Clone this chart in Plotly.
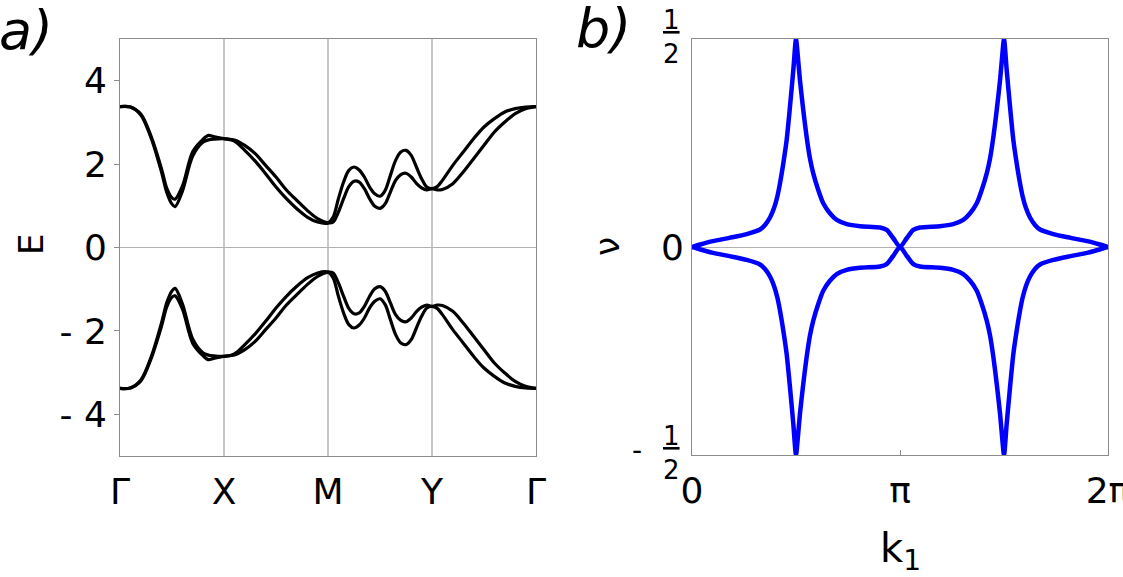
import math
import plotly.graph_objects as go

# ---------------- panel a) band structure ----------------
PATH_X = [0, 0.1, 0.2, 0.3, 0.4, 0.45, 0.5, 0.53, 0.6, 0.7, 0.8, 0.85, 0.9, 1.0,
          1.1, 1.2, 1.3, 1.4, 1.5, 1.6, 1.7, 1.8, 1.9, 2.0,
          2.05, 2.1, 2.15, 2.2, 2.25, 2.3, 2.35, 2.4, 2.45, 2.5,
          2.55, 2.6, 2.65, 2.7, 2.75, 2.8, 2.85, 2.9, 2.95, 3.0,
          3.05, 3.1, 3.2, 3.3, 3.4, 3.5, 3.6, 3.7, 3.8, 3.9, 4.0]

BAND_A_UP = [3.38, 3.37, 3.18, 2.62, 1.80, 1.32, 1.04, 0.98, 1.35, 2.20, 2.53, 2.58, 2.60, 2.61,
             2.55, 2.33, 2.07, 1.77, 1.45, 1.17, 0.93, 0.73, 0.61, 0.59,
             0.73, 1.17, 1.57, 1.85, 1.93, 1.86, 1.69, 1.45, 1.29, 1.23,
             1.37, 1.73, 2.09, 2.29, 2.33, 2.21, 1.93, 1.65, 1.45, 1.41,
             1.46, 1.61, 1.97, 2.29, 2.61, 2.89, 3.09, 3.25, 3.33, 3.37, 3.38]

BAND_B_UP = [3.38, 3.37, 3.20, 2.66, 1.88, 1.42, 1.19, 1.16, 1.47, 2.30, 2.60, 2.69, 2.66, 2.61,
             2.58, 2.45, 2.25, 1.97, 1.69, 1.38, 1.13, 0.89, 0.69, 0.59,
             0.61, 0.85, 1.17, 1.46, 1.59, 1.57, 1.41, 1.17, 0.99, 0.94,
             1.05, 1.33, 1.61, 1.75, 1.78, 1.69, 1.54, 1.43, 1.38, 1.41,
             1.38, 1.39, 1.53, 1.81, 2.13, 2.45, 2.77, 3.01, 3.21, 3.33, 3.38]

BAND_A_DN = [-3.38, -3.37, -3.18, -2.62, -1.80, -1.32, -1.04, -0.98, -1.35, -2.20, -2.53, -2.58, -2.60, -2.61,
             -2.55, -2.33, -2.07, -1.77, -1.45, -1.17, -0.93, -0.73, -0.61, -0.59,
             -0.73, -1.17, -1.57, -1.85, -1.93, -1.86, -1.69, -1.45, -1.29, -1.23,
             -1.37, -1.73, -2.09, -2.29, -2.33, -2.21, -1.93, -1.65, -1.45, -1.41,
             -1.46, -1.61, -1.97, -2.29, -2.61, -2.89, -3.09, -3.25, -3.33, -3.37, -3.38]

BAND_B_DN = [-3.38, -3.37, -3.20, -2.66, -1.88, -1.42, -1.19, -1.16, -1.47, -2.30, -2.60, -2.69, -2.66, -2.61,
             -2.58, -2.45, -2.25, -1.97, -1.69, -1.38, -1.13, -0.89, -0.69, -0.59,
             -0.61, -0.85, -1.17, -1.46, -1.59, -1.57, -1.41, -1.17, -0.99, -0.94,
             -1.05, -1.33, -1.61, -1.75, -1.78, -1.69, -1.54, -1.43, -1.38, -1.41,
             -1.38, -1.39, -1.53, -1.81, -2.13, -2.45, -2.77, -3.01, -3.21, -3.33, -3.38]

PATH_TICKS = [0, 1, 2, 3, 4]
PATH_LABELS = ["Γ", "X", "M", "Y", "Γ"]
E_TICKS = [-4, -2, 0, 2, 4]
E_LABELS = ["- 4", "- 2", "0", "2", "4"]

# ---------------- panel b) Wannier centres ----------------
K1_OVER_PI = [0, 0.04, 0.1, 0.18, 0.263, 0.327, 0.351, 0.375, 0.394, 0.41, 0.423, 0.439, 0.455,
              0.471, 0.487, 0.5,
              0.506, 0.519, 0.535, 0.551, 0.567, 0.583, 0.607, 0.631, 0.663, 0.696, 0.744,
              0.808, 0.904, 0.936, 0.968, 1.0,
              1.032, 1.064, 1.096, 1.192, 1.256, 1.304, 1.337, 1.369, 1.393, 1.417, 1.433,
              1.449, 1.465, 1.481, 1.494,
              1.5, 1.513, 1.529, 1.545, 1.561, 1.577, 1.59, 1.606, 1.625, 1.649, 1.673,
              1.737, 1.82, 1.9, 1.96, 2.0]

NU_UPPER = [0, 0.006, 0.014, 0.022, 0.031, 0.042, 0.053, 0.071, 0.093, 0.121, 0.153, 0.201, 0.257,
            0.337, 0.425, 0.5,
            0.474, 0.401, 0.329, 0.265, 0.213, 0.177, 0.137, 0.105, 0.081, 0.065, 0.055,
            0.050, 0.047, 0.041, 0.021, 0.0,
            0.021, 0.041, 0.047, 0.050, 0.055, 0.065, 0.081, 0.105, 0.137, 0.177, 0.213,
            0.265, 0.329, 0.401, 0.474,
            0.5, 0.425, 0.337, 0.257, 0.201, 0.153, 0.121, 0.093, 0.071, 0.053, 0.042,
            0.031, 0.022, 0.014, 0.006, 0]

NU_LOWER = [0, -0.006, -0.014, -0.022, -0.031, -0.042, -0.053, -0.071, -0.093, -0.121, -0.153, -0.201, -0.257,
            -0.337, -0.425, -0.5,
            -0.474, -0.401, -0.329, -0.265, -0.213, -0.177, -0.137, -0.105, -0.081, -0.065, -0.055,
            -0.050, -0.047, -0.041, -0.021, 0.0,
            -0.021, -0.041, -0.047, -0.050, -0.055, -0.065, -0.081, -0.105, -0.137, -0.177, -0.213,
            -0.265, -0.329, -0.401, -0.474,
            -0.5, -0.425, -0.337, -0.257, -0.201, -0.153, -0.121, -0.093, -0.071, -0.053, -0.042,
            -0.031, -0.022, -0.014, -0.006, 0]

K_TICKS_OVER_PI = [0, 1, 2]
K_LABELS = ["0", "π", "2π"]

# ---------------- layout helpers ----------------
W, H = 1123, 577
FONT = "DejaVu Sans"


def fx(p):
    return p / W


def fy(p):
    return 1 - p / H


k1 = [v * math.pi for v in K1_OVER_PI]

fig = go.Figure()
for band in (BAND_A_UP, BAND_B_UP, BAND_A_DN, BAND_B_DN):
    fig.add_trace(go.Scatter(x=PATH_X, y=band, mode="lines", xaxis="x", yaxis="y",
                             line=dict(color="black", width=3.2, shape="spline", smoothing=0.9),
                             showlegend=False, hoverinfo="skip"))
for nu in (NU_UPPER, NU_LOWER):
    fig.add_trace(go.Scatter(x=k1, y=nu, mode="lines", xaxis="x2", yaxis="y2",
                             line=dict(color="#0000ff", width=4.5, shape="spline", smoothing=0.7),
                             showlegend=False, hoverinfo="skip"))

frame = dict(showline=True, linecolor="#8c8c8c", linewidth=1, mirror=True, automargin=False,
             ticklabeloverflow="allow")
tickfont = dict(family=FONT, size=36, color="black")

fig.update_layout(
    width=W, height=H,
    margin=dict(l=0, r=0, t=0, b=0, autoexpand=False),
    paper_bgcolor="white", plot_bgcolor="white",
    xaxis=dict(domain=[fx(120), fx(536)], range=[0, 4], anchor="y",
               tickvals=PATH_TICKS, ticktext=PATH_LABELS, tickfont=tickfont,
               showgrid=True, gridcolor="#c8c8c8", gridwidth=1.5, zeroline=False,
               ticks="", ticklabelstandoff=4, **frame),
    yaxis=dict(domain=[fy(456), fy(39)], range=[-5, 5], anchor="x",
               tickvals=E_TICKS, ticktext=E_LABELS, tickfont=tickfont,
               showgrid=False, zeroline=True, zerolinecolor="#b0b0b0", zerolinewidth=1,
               ticks="outside", ticklen=5, tickcolor="#8c8c8c", **frame),
    xaxis2=dict(domain=[fx(692), fx(1108)], range=[0, 2 * math.pi], anchor="y2",
                tickvals=[v * math.pi for v in K_TICKS_OVER_PI], ticktext=K_LABELS,
                tickfont=tickfont, showgrid=False, zeroline=False,
                ticks="inside", ticklen=5, tickcolor="#8c8c8c", ticklabelstandoff=4, **frame),
    yaxis2=dict(domain=[fy(455), fy(39)], range=[-0.5, 0.5], anchor="x2",
                tickvals=[0], ticktext=["0"], tickfont=tickfont,
                showgrid=False, zeroline=True, zerolinecolor="#b0b0b0", zerolinewidth=1,
                ticks="", **frame),
)

ann = []


def add(text, x, y, size, angle=0, xanchor="center", yanchor="middle"):
    ann.append(dict(text=text, x=fx(x), y=fy(y), xref="paper", yref="paper",
                    showarrow=False, textangle=angle, xanchor=xanchor, yanchor=yanchor,
                    font=dict(family=FONT, size=size, color="black")))


add("<i>a)</i>", 26, 31, 54)
add("<i>b)</i>", 603, 28, 54)
add("E", 31, 245, 34, angle=-90)
add("ν", 607, 247, 34, angle=-90)
add("k<sub>1</sub>", 900, 551, 40)
add("<u>1</u><br>2", 671, 37, 26)
add("<u>1</u><br>2", 671, 453, 26)
add("-", 637, 450, 28)

fig.update_layout(annotations=ann)

fig.write_html("out.html", config={"displayModeBar": False})
